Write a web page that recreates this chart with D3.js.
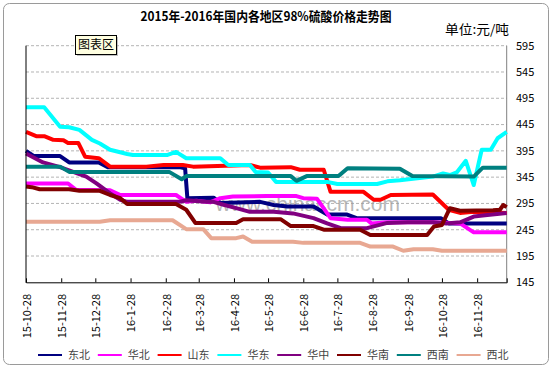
<!DOCTYPE html>
<html><head><meta charset="utf-8">
<script src="https://cdnjs.cloudflare.com/ajax/libs/d3/7.8.5/d3.min.js"></script>
<style>
html,body{margin:0;padding:0;background:#fff;}
svg{display:block;}
</style></head>
<body>
<svg id="chart" width="554" height="369"></svg>
<script>
const title = "2015年-2016年国内各地区98%硫酸价格走势图";
const unitLabel = "单位:元/吨";
const seriesNames = ["东北","华北","山东","华东","华中","华南","西南","西北"];
const seriesColors = ["#000080","#FF00FF","#FF0000","#00FFFF","#800080","#800000","#008080","#E8A892"];
const xTickLabels = ["15-10-28","15-11-28","15-12-28","16-1-28","16-2-28","16-3-28","16-4-28","16-5-28","16-6-28","16-7-28","16-8-28","16-9-28","16-10-28","16-11-28"];
const xTickDates = ["2015-10-28","2015-11-28","2015-12-28","2016-01-28","2016-02-28","2016-03-28","2016-04-28","2016-05-28","2016-06-28","2016-07-28","2016-08-28","2016-09-28","2016-10-28","2016-11-28"];
const yTicks = [145,195,245,295,345,395,445,495,545,595];
const dateStart = "2015-10-28", dateEnd = "2016-12-24";

const dongbei = [["2015-10-28",395],["2015-11-04",385],["2015-11-27",385],["2015-12-05",373],["2015-12-31",373],["2016-01-08",364],["2016-03-11",364],["2016-03-16",362],["2016-03-18",305],["2016-04-10",306],["2016-04-16",296],["2016-05-21",298],["2016-06-02",292],["2016-06-14",289],["2016-07-07",289],["2016-07-19",274],["2016-08-05",274],["2016-08-14",267],["2016-10-27",267],["2016-11-03",257],["2016-12-24",257]];
const huabei = [["2015-10-28",333],["2015-12-04",333],["2015-12-11",321],["2016-01-10",320],["2016-01-19",311],["2016-03-08",311],["2016-03-17",298],["2016-03-26",300],["2016-04-07",297],["2016-04-16",305],["2016-04-27",308],["2016-05-27",309],["2016-06-22",309],["2016-06-28",305],["2016-07-10",304],["2016-07-22",267],["2016-08-06",264],["2016-08-23",264],["2016-08-27",257],["2016-09-10",259],["2016-10-20",259],["2016-11-13",257],["2016-11-25",240],["2016-12-24",240]];
const shandong = [["2015-10-28",431],["2015-11-06",423],["2015-11-13",423],["2015-11-21",416],["2015-11-30",415],["2015-12-04",410],["2015-12-13",410],["2015-12-19",384],["2015-12-31",381],["2016-01-10",365],["2016-02-11",365],["2016-02-26",368],["2016-03-14",368],["2016-03-23",365],["2016-05-12",368],["2016-05-21",363],["2016-06-17",364],["2016-06-25",359],["2016-07-16",359],["2016-07-22",317],["2016-08-20",317],["2016-08-29",302],["2016-09-04",302],["2016-09-13",311],["2016-10-20",312],["2016-11-03",283],["2016-11-13",277],["2016-11-25",279],["2016-12-24",277]];
const huadong = [["2015-10-28",478],["2015-11-13",478],["2015-11-27",441],["2015-12-05",440],["2015-12-14",435],["2015-12-25",416],["2016-01-01",409],["2016-01-10",397],["2016-01-25",389],["2016-01-30",387],["2016-02-29",387],["2016-03-08",393],["2016-03-17",381],["2016-04-16",381],["2016-04-23",368],["2016-05-12",368],["2016-05-17",355],["2016-05-28",354],["2016-06-04",336],["2016-07-19",336],["2016-07-28",332],["2016-09-01",332],["2016-09-10",337],["2016-09-21",339],["2016-10-20",346],["2016-10-29",352],["2016-11-04",349],["2016-11-10",354],["2016-11-18",376],["2016-11-25",330],["2016-12-02",397],["2016-12-10",397],["2016-12-16",419],["2016-12-24",431]];
const huazhong = [["2015-10-28",390],["2015-11-12",373],["2015-11-27",364],["2015-12-20",346],["2015-12-29",333],["2016-01-10",314],["2016-01-19",302],["2016-01-25",298],["2016-03-11",298],["2016-03-17",301],["2016-04-04",298],["2016-04-10",298],["2016-04-18",293],["2016-04-30",286],["2016-05-12",279],["2016-06-02",279],["2016-06-19",276],["2016-07-07",267],["2016-07-19",257],["2016-07-31",248],["2016-08-23",248],["2016-09-10",258],["2016-09-28",259],["2016-10-20",259],["2016-11-01",257],["2016-11-13",259],["2016-11-25",270],["2016-12-07",273],["2016-12-24",277]];
const huanan = [["2015-10-28",327],["2015-11-02",326],["2015-11-09",322],["2015-12-05",322],["2015-12-14",319],["2016-01-01",319],["2016-01-10",311],["2016-01-19",305],["2016-01-25",294],["2016-03-08",294],["2016-03-17",283],["2016-03-25",258],["2016-04-30",258],["2016-05-06",265],["2016-06-08",265],["2016-06-17",252],["2016-07-07",252],["2016-07-16",245],["2016-08-17",245],["2016-08-26",235],["2016-10-15",235],["2016-10-21",251],["2016-10-28",254],["2016-11-04",286],["2016-11-13",281],["2016-12-12",282],["2016-12-18",283],["2016-12-21",292],["2016-12-24",288]];
const xinan = [["2015-10-28",365],["2015-11-27",365],["2015-12-05",355],["2016-03-02",355],["2016-03-13",341],["2016-03-17",347],["2016-06-17",347],["2016-06-22",338],["2016-07-01",347],["2016-07-29",347],["2016-08-06",362],["2016-09-21",361],["2016-10-02",347],["2016-11-25",346],["2016-12-03",363],["2016-12-24",363]];
const xibei = [["2015-10-28",260],["2016-01-01",260],["2016-01-10",263],["2016-03-05",263],["2016-03-17",246],["2016-04-01",246],["2016-04-08",229],["2016-04-30",229],["2016-05-06",232],["2016-05-14",222],["2016-06-19",222],["2016-06-28",220],["2016-08-17",220],["2016-08-26",213],["2016-09-15",213],["2016-09-24",205],["2016-10-03",208],["2016-10-20",208],["2016-10-28",205],["2016-12-24",205]];
const seriesData = [dongbei, huabei, shandong, huadong, huazhong, huanan, xinan, xibei];

const parse = d3.timeParse("%Y-%m-%d");
const svg = d3.select("#chart");
const plot = {left: 26, right: 506.7, top: 45.7, bottom: 282.3};
const x = d3.scaleTime().domain([parse(dateStart), parse(dateEnd)]).range([plot.left, plot.right]);
const y = d3.scaleLinear().domain([145, 595]).range([plot.bottom, plot.top]);
const cjk = "'Noto Sans CJK SC', 'Noto Sans', sans-serif";

// outer frame
svg.append("rect").attr("x",3.5).attr("y",3.5).attr("width",545).attr("height",361).attr("rx",6)
  .attr("fill","#fff").attr("stroke","#9a9a9a");

// title
svg.append("text").attr("x",266).attr("y",21).attr("text-anchor","middle")
  .attr("font-family",cjk).attr("font-weight","bold").attr("font-size",13)
  .attr("textLength",251).attr("lengthAdjust","spacingAndGlyphs").text(title);
svg.append("text").attr("x",445).attr("y",34)
  .attr("font-family",cjk).attr("font-size",13).attr("textLength",64).attr("lengthAdjust","spacingAndGlyphs")
  .text(unitLabel);

// gridlines
svg.append("g").selectAll("line").data(yTicks.filter(d => d !== 145)).join("line")
  .attr("x1",plot.left).attr("x2",plot.right).attr("y1",d=>y(d)).attr("y2",d=>y(d))
  .attr("stroke","#b4b4b4").attr("stroke-dasharray","3,2").attr("stroke-width",1);

// right border
svg.append("line").attr("x1",plot.right).attr("x2",plot.right).attr("y1",plot.top).attr("y2",plot.bottom)
  .attr("stroke","#808080");

// watermark
svg.append("text").attr("x",400).attr("y",211).attr("text-anchor","end")
  .attr("font-family","'Liberation Sans', Arial, sans-serif").attr("font-size",21)
  .attr("fill","#9a9a9a").attr("opacity",0.7).text("www.chinaccm.com");

// series lines
const line = d3.line().x(d => x(parse(d[0]))).y(d => y(d[1]));
svg.append("g").selectAll("path").data(seriesData).join("path")
  .attr("d", line).attr("fill","none")
  .attr("stroke",(d,i)=>seriesColors[i]).attr("stroke-width",4)
  .attr("stroke-linejoin","round");

// x axis
const xAxis = d3.axisBottom(x).tickValues(xTickDates.slice(1).map(parse)).tickSize(-4).tickFormat("");
const gx = svg.append("g").attr("transform",`translate(0,${plot.bottom})`).call(xAxis);
gx.select(".domain").attr("stroke","#000");
gx.selectAll(".tick line").attr("stroke","#000");

// left axis line
svg.append("line").attr("x1",plot.left).attr("x2",plot.left).attr("y1",plot.top).attr("y2",plot.bottom+0.5)
  .attr("stroke","#000");

// x labels (rotated)
svg.append("g").selectAll("text").data(xTickDates).join("text")
  .attr("transform",(d)=>`translate(${x(parse(d))+1},294) rotate(-90)`)
  .attr("text-anchor","end").attr("dy","0.35em")
  .attr("font-family",cjk).attr("font-size",11).attr("fill","#000")
  .text((d,i)=>xTickLabels[i]);

// y labels (right)
svg.append("g").selectAll("text").data(yTicks).join("text")
  .attr("x",516).attr("y",d=>y(d)).attr("dy","0.35em")
  .attr("font-family",cjk).attr("font-size",11).attr("fill","#000")
  .text(d=>d);

// legend
const lg = svg.append("g").selectAll("g").data(seriesNames).join("g")
  .attr("transform",(d,i)=>`translate(${38 + i*59.8},355)`);
lg.append("line").attr("x1",0).attr("x2",24).attr("y1",0).attr("y2",0)
  .attr("stroke",(d,i)=>seriesColors[i]).attr("stroke-width",2);
lg.append("text").attr("x",30).attr("y",0).attr("dy","0.35em")
  .attr("font-family",cjk).attr("font-size",11).attr("fill","#444").text(d=>d);

// 图表区 tooltip
const tip = svg.append("g").attr("transform","translate(75,35)");
tip.append("rect").attr("x",2).attr("y",2).attr("width",41).attr("height",19).attr("fill","#9a9a9a").attr("opacity",0.6);
tip.append("rect").attr("x",0.5).attr("y",0.5).attr("width",41).attr("height",19).attr("fill","#ffffe1").attr("stroke","#000");
tip.append("text").attr("x",21).attr("y",10).attr("dy","0.36em").attr("text-anchor","middle")
  .attr("font-family",cjk).attr("font-size",12).text("图表区");
</script>
</body></html>
